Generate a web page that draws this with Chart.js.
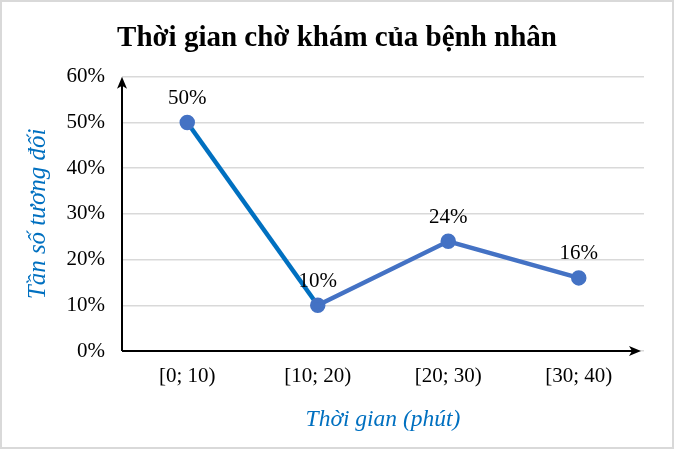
<!DOCTYPE html>
<html>
<head>
<meta charset="utf-8">
<script src="https://cdn.jsdelivr.net/npm/chart.js@4/dist/chart.umd.min.js"></script>
<style>
html,body{margin:0;padding:0;background:#fff;}
#wrap{width:674px;height:449px;position:relative;}
</style>
</head>
<body>
<div id="wrap"><canvas id="c" width="674" height="449"></canvas></div>
<script>
const categories = ['[0; 10)', '[10; 20)', '[20; 30)', '[30; 40)'];
const values = [50, 10, 24, 16];
const yTicks = [0, 10, 20, 30, 40, 50, 60];
const chartTitle = 'Thời gian chờ khám của bệnh nhân';
const xTitle = 'Thời gian (phút)';
const yTitle = 'Tần số tương đối';

const SERIF = '"Liberation Serif", "Times New Roman", serif';

const decor = {
  id: 'decor',
  afterDatasetsDraw(chart) {
    const {ctx, chartArea: a, scales: {x, y}} = chart;
    ctx.save();
    ctx.strokeStyle = '#000';
    ctx.fillStyle = '#000';
    ctx.lineWidth = 2;
    const x0 = a.left, y0 = y.getPixelForValue(0);
    const yTop = y.getPixelForValue(60);
    const xEnd = a.right - 3;
    ctx.beginPath();
    ctx.moveTo(x0, y0);
    ctx.lineTo(x0, yTop + 8);
    ctx.moveTo(x0, y0);
    ctx.lineTo(xEnd - 8, y0);
    ctx.stroke();
    ctx.beginPath();
    ctx.moveTo(x0, yTop);
    ctx.lineTo(x0 - 5, yTop + 12);
    ctx.lineTo(x0, yTop + 9);
    ctx.lineTo(x0 + 5, yTop + 12);
    ctx.closePath();
    ctx.fill();
    ctx.beginPath();
    ctx.moveTo(xEnd, y0);
    ctx.lineTo(xEnd - 12, y0 - 5);
    ctx.lineTo(xEnd - 9, y0);
    ctx.lineTo(xEnd - 12, y0 + 5);
    ctx.closePath();
    ctx.fill();
    ctx.font = '21px ' + SERIF;
    ctx.textAlign = 'center';
    ctx.textBaseline = 'middle';
    const meta = chart.getDatasetMeta(0);
    meta.data.forEach((pt, i) => {
      ctx.fillText(values[i] + '%', pt.x, pt.y - 24);
    });
    ctx.restore();
  },
  afterDraw(chart) {
    const ctx = chart.ctx;
    ctx.save();
    ctx.strokeStyle = '#d9d9d9';
    ctx.lineWidth = 2;
    ctx.strokeRect(1, 1, chart.width - 2, chart.height - 2);
    ctx.restore();
  }
};

new Chart(document.getElementById('c'), {
  type: 'line',
  data: {
    labels: categories,
    datasets: [{
      data: values,
      borderColor: '#4472C4',
      borderWidth: 4.5,
      pointBackgroundColor: '#4472C4',
      pointBorderColor: '#4472C4',
      pointRadius: 5.5,
      tension: 0,
      segment: {
        borderColor: ctx => ctx.p0DataIndex === 0 ? '#0070C0' : '#4472C4'
      }
    }]
  },
  options: {
    responsive: false,
    animation: false,
    devicePixelRatio: 1,
    layout: {padding: {left: 0, right: 0, top: 0, bottom: 0}},
    plugins: {
      legend: {display: false},
      tooltip: {enabled: false},
      title: {
        display: true,
        text: chartTitle,
        color: '#000',
        font: {family: SERIF, size: 29, weight: 'bold'},
        padding: {top: 21, bottom: 21}
      }
    },
    scales: {
      x: {
        offset: true,
        grid: {display: false, drawTicks: false},
        border: {display: false},
        ticks: {color: '#000', font: {family: SERIF, size: 21}, padding: 13, maxRotation: 0},
        title: {display: true, text: xTitle, color: '#0070C0', font: {family: SERIF, size: 23.5, style: 'italic'}, padding: {top: 0, bottom: 15}},
        afterFit: s => { s.height = 98; }
      },
      y: {
        min: 0, max: 60,
        afterBuildTicks: s => { s.ticks = yTicks.map(v => ({value: v})); },
        grid: {color: '#d9d9d9', lineWidth: 1.5, drawTicks: false},
        border: {display: false},
        ticks: {color: '#000', font: {family: SERIF, size: 21}, padding: 17, callback: v => v + '%'},
        title: {display: true, text: yTitle, color: '#0070C0', font: {family: SERIF, size: 25, style: 'italic'}, padding: {top: 23, bottom: 0}},
        afterFit: s => { s.width = 122; }
      },
      yRight: {
        position: 'right',
        min: 0, max: 60,
        grid: {display: false, drawTicks: false},
        border: {display: false},
        ticks: {display: false},
        afterFit: s => { s.width = 30; }
      }
    }
  },
  plugins: [decor]
});
</script>
</body>
</html>
